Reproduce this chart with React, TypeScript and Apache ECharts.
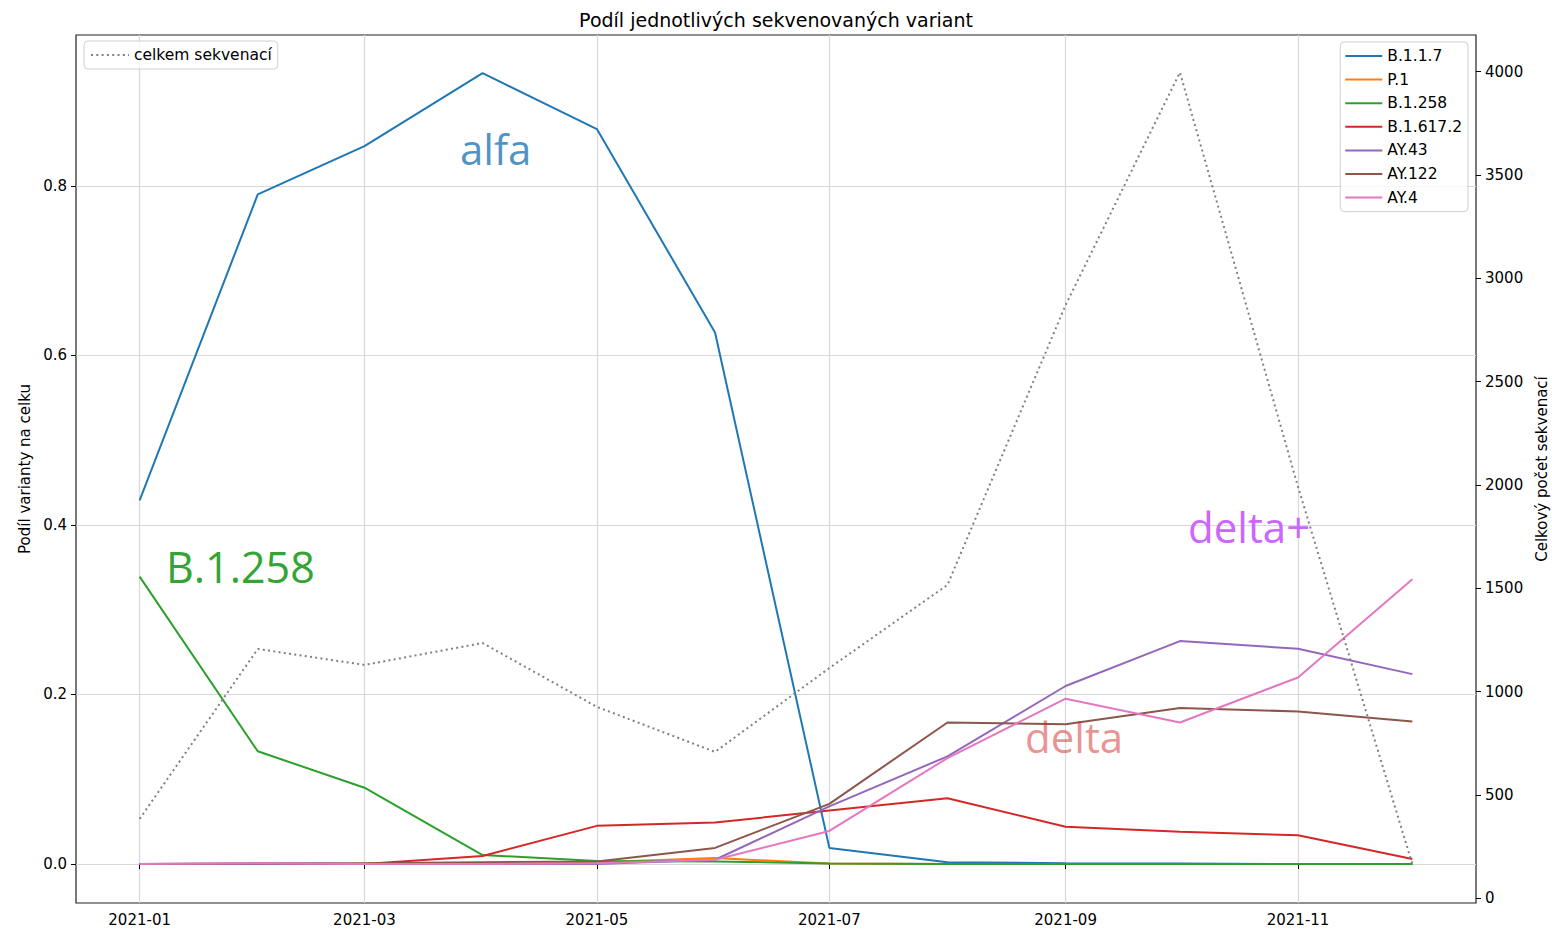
import React, { useEffect, useRef } from 'react';
import * as echarts from 'echarts';

const months = ['2021-01', '2021-02', '2021-03', '2021-04', '2021-05', '2021-06', '2021-07', '2021-08', '2021-09', '2021-10', '2021-11', '2021-12'];
const b117 = [0.429, 0.79, 0.847, 0.933, 0.867, 0.627, 0.019, 0.002, 0.001, 0.0005, 0, 0];
const p1 = [0, 0, 0, 0, 0.002, 0.007, 0.0005, 0, 0, 0, 0, 0];
const b1258 = [0.339, 0.133, 0.09, 0.0106, 0.0035, 0.003, 0.0005, 0, 0, 0, 0, 0];
const b16172 = [0, 0, 0, 0.0094, 0.045, 0.049, 0.063, 0.0775, 0.044, 0.038, 0.034, 0.006];
const ay43 = [0, 0, 0, 0, 0, 0.005, 0.068, 0.127, 0.21, 0.263, 0.254, 0.224];
const ay122 = [0, 0.001, 0.001, 0.002, 0.003, 0.019, 0.071, 0.167, 0.165, 0.184, 0.18, 0.168];
const ay4 = [0, 0.001, 0, 0, 0.001, 0.005, 0.039, 0.125, 0.195, 0.167, 0.22, 0.336];
const total = [384, 1206, 1129, 1235, 926, 708, 1114, 1516, 2870, 3996, 1990, 164];

const xTickMonths = ['2021-01', '2021-03', '2021-05', '2021-07', '2021-09', '2021-11'];
const leftTicks = [0, 0.2, 0.4, 0.6, 0.8];
const rightTicks = [0, 500, 1000, 1500, 2000, 2500, 3000, 3500, 4000];

const variantNames = ['B.1.1.7', 'P.1', 'B.1.258', 'B.1.617.2', 'AY.43', 'AY.122', 'AY.4'];
const variantData = [b117, p1, b1258, b16172, ay43, ay122, ay4];
const variantColors = ['#1f77b4', '#ff7f0e', '#2ca02c', '#d62728', '#9467bd', '#8c564b', '#e377c2'];
const totalName = 'celkem sekvenací';

const FONT = '"DejaVu Sans", sans-serif';

function ts(m: string): number {
  const [y, mo] = m.split('-').map(Number);
  return new Date(y, mo - 1, 1).getTime();
}

export default function App() {
  const ref = useRef<HTMLDivElement>(null);
  useEffect(() => {
    if (!ref.current) return;
    const chart = echarts.init(ref.current, undefined, { renderer: 'svg' });
    const xs = months.map(ts);
    const span = xs[xs.length - 1] - xs[0];
    const xMin = xs[0] - span * 0.05;
    const xMax = xs[xs.length - 1] + span * 0.05;
    const xTicks = xTickMonths.map(ts);

    const variantSeries = variantNames.map((name, i) => ({
      name,
      type: 'line',
      yAxisIndex: 0,
      data: xs.map((x, j) => [x, variantData[i][j]]),
      symbol: 'none',
      lineStyle: { color: variantColors[i], width: 2 },
      itemStyle: { color: variantColors[i] },
      z: 2 + i,
    }));

    const annFont = '"Open Sans", "Noto Sans", sans-serif';
    const legendCommon = {
      orient: 'vertical',
      itemHeight: 15,
      backgroundColor: 'rgba(255,255,255,0.8)',
      borderColor: '#d0d0d0',
      borderWidth: 1,
      borderRadius: 4,
      itemStyle: { opacity: 0 },
      textStyle: { fontFamily: FONT, fontSize: 15.5, color: '#000' },
    };
    const option: any = {
      animation: false,
      backgroundColor: '#ffffff',
      title: {
        text: 'Podíl jednotlivých sekvenovaných variant',
        left: 'center',
        top: 5,
        textStyle: { fontFamily: FONT, fontSize: 19, fontWeight: 'normal', color: '#000' },
      },
      grid: {
        left: 76,
        right: 76,
        top: 35,
        bottom: 29,
        outerBoundsMode: 'none',
        containLabel: false,
        show: true,
        borderColor: '#222',
        borderWidth: 1.2,
        backgroundColor: 'transparent',
      },
      legend: [
        {
          ...legendCommon,
          data: [totalName],
          left: 84,
          top: 41,
          padding: [6, 6, 6, 6],
          itemWidth: 38,
        },
        {
          ...legendCommon,
          data: variantNames,
          right: 84,
          top: 42,
          padding: [6, 6, 6, 4],
          itemWidth: 37,
          itemGap: 7.6,
        },
      ],
      xAxis: {
        type: 'value',
        min: xMin,
        max: xMax,
        axisLine: { show: false },
        axisTick: { show: true, customValues: xTicks, length: 5, lineStyle: { color: '#000' } },
        axisLabel: {
          customValues: xTicks,
          fontFamily: FONT,
          fontSize: 15,
          color: '#000',
          margin: 9,
          formatter: (v: number) => {
            const d = new Date(v);
            const mm = String(d.getMonth() + 1).padStart(2, '0');
            return `${d.getFullYear()}-${mm}`;
          },
        },
        splitLine: { show: true, lineStyle: { color: '#d8d8d8', width: 1.2 } },
      },
      yAxis: [
        {
          type: 'value',
          position: 'left',
          min: -0.046,
          max: 0.978,
          name: 'Podíl varianty na celku',
          nameLocation: 'middle',
          nameGap: 43,
          nameTextStyle: { fontFamily: FONT, fontSize: 15, color: '#000' },
          axisLine: { show: false },
          axisTick: { show: true, customValues: leftTicks, length: 5, lineStyle: { color: '#000' } },
          axisLabel: {
            customValues: leftTicks,
            fontFamily: FONT,
            fontSize: 15,
            color: '#000',
            margin: 9,
            formatter: (v: number) => v.toFixed(1),
          },
          splitLine: { show: true, lineStyle: { color: '#d8d8d8', width: 1.2 } },
        },
        {
          type: 'value',
          position: 'right',
          min: -23,
          max: 4177,
          name: 'Celkový počet sekvenací',
          nameLocation: 'middle',
          nameGap: 58,
          nameRotate: 90,
          nameTextStyle: { fontFamily: FONT, fontSize: 15, color: '#000' },
          axisLine: { show: false },
          axisTick: { show: true, customValues: rightTicks, length: 5, lineStyle: { color: '#000' } },
          axisLabel: {
            customValues: rightTicks,
            fontFamily: FONT,
            fontSize: 15,
            color: '#000',
            margin: 9,
            formatter: (v: number) => String(v),
          },
          splitLine: { show: false },
        },
      ],
      series: [
        ...variantSeries,
        {
          name: totalName,
          type: 'line',
          yAxisIndex: 1,
          data: xs.map((x, j) => [x, total[j]]),
          symbol: 'none',
          lineStyle: { color: '#808080', width: 2, type: [2, 3.3] },
          itemStyle: { color: '#808080' },
          z: 20,
        },
      ],
      graphic: [
        { type: 'text', left: 460, top: 127, z: 30, style: { text: 'alfa', fill: 'rgba(31,119,180,0.8)', fontSize: 42, fontFamily: annFont } },
        { type: 'text', left: 166, top: 545, z: 30, style: { text: 'B.1.258', fill: '#34a434', fontSize: 43, fontFamily: annFont } },
        { type: 'text', left: 1188, top: 505, z: 30, style: { text: 'delta+', fill: '#cc66ff', fontSize: 42, fontFamily: annFont } },
        { type: 'text', left: 1025, top: 715, z: 30, style: { text: 'delta', fill: 'rgba(214,39,40,0.5)', fontSize: 42, fontFamily: annFont } },
      ],
    };
    chart.setOption(option);
    return () => chart.dispose();
  }, []);
  return <div ref={ref} style={{ position: 'fixed', left: 0, top: 0, width: 1552, height: 932 }} />;
}
